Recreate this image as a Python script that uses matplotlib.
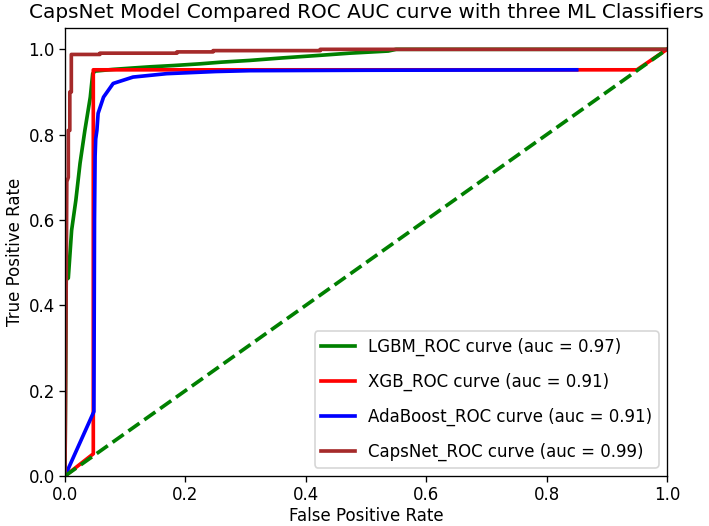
import matplotlib
matplotlib.use("Agg")
import matplotlib.pyplot as plt

# LGBM
lgbm_fpr = [0.0, 0.002, 0.0055, 0.011, 0.018, 0.025, 0.033, 0.042, 0.046, 0.050,
            0.08, 0.11, 0.141, 0.18, 0.224, 0.26, 0.307, 0.362, 0.424, 0.473, 0.537, 0.55, 1.0]
lgbm_tpr = [0.0, 0.46, 0.464, 0.576, 0.646, 0.733, 0.81, 0.888, 0.943, 0.949,
            0.953, 0.956, 0.959, 0.962, 0.966, 0.970, 0.974, 0.980, 0.986, 0.991, 0.996, 1.0, 1.0]
# XGB
xgb_fpr = [0.0, 0.047, 0.047, 0.95, 1.0]
xgb_tpr = [0.0, 0.052, 0.952, 0.952, 1.0]
# AdaBoost
ada_fpr = [0.0, 0.048, 0.049, 0.050, 0.051, 0.053, 0.055, 0.064, 0.08, 0.113, 0.169, 0.25, 0.307, 0.5, 0.85]
ada_tpr = [0.0, 0.151, 0.6, 0.75, 0.79, 0.81, 0.85, 0.888, 0.92, 0.935, 0.943, 0.948, 0.950, 0.951, 0.952]
# CapsNet
caps_fpr = [0.0, 0.002, 0.003, 0.0055, 0.0055, 0.008, 0.008, 0.0105, 0.0105, 0.058, 0.058,
            0.186, 0.186, 0.246, 0.246, 0.424, 0.424, 1.0]
caps_tpr = [0.0, 0.45, 0.69, 0.70, 0.81, 0.81, 0.90, 0.90, 0.988, 0.988, 0.991,
            0.991, 0.994, 0.994, 0.997, 0.997, 1.0, 1.0]

labels = ["LGBM_ROC curve (auc = 0.97)", "XGB_ROC curve (auc = 0.91)",
          "AdaBoost_ROC curve (auc = 0.91)", "CapsNet_ROC curve (auc = 0.99)"]

DPI = 120
fig = plt.figure(figsize=(709/DPI, 526/DPI), dpi=DPI)
ax = fig.add_axes([65/709, 50/526, 602/709, 448/526])
ax.plot(lgbm_fpr, lgbm_tpr, color="green", lw=2.2, label=labels[0])
ax.plot(xgb_fpr, xgb_tpr, color="red", lw=2.2, label=labels[1])
ax.plot(ada_fpr, ada_tpr, color="blue", lw=2.2, label=labels[2])
ax.plot(caps_fpr, caps_tpr, color="brown", lw=2.2, label=labels[3])
ax.plot([0, 1], [0, 1], "g--", lw=2.2)
ax.set_xlim(0.0, 1.0)
ax.set_ylim(0.0, 1.05)
ax.tick_params(pad=2.5)
ax.set_xlabel("False Positive Rate", labelpad=2)
ax.set_ylabel("True Positive Rate", labelpad=3)
ax.set_title("CapsNet Model Compared ROC AUC curve with three ML Classifiers")
ax.legend(loc="lower right", labelspacing=1.0)
fig.savefig("out.png", dpi=DPI)
